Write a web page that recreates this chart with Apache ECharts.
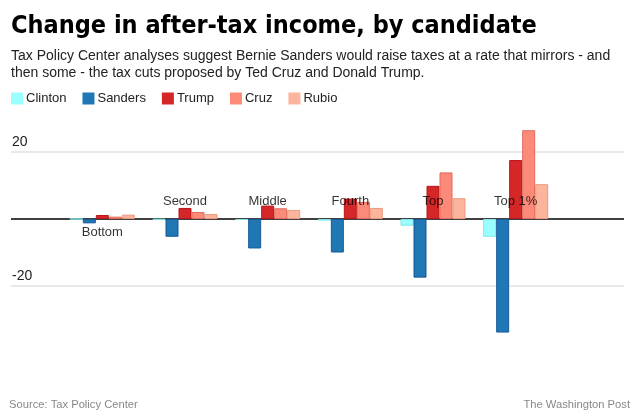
<!DOCTYPE html>
<html lang="en">

<head>
    <meta charset="UTF-8">
    <meta name="viewport" content="width=device-width, initial-scale=1.0">
    <title>Change in after-tax income, by candidate</title>
    <style>
        html, body { margin: 0; padding: 0; background: #fff; }
        .show { width: 640px; height: 420px; }
    </style>
</head>

<body>
    <div class="show"></div>
    <script src="https://cdn.jsdelivr.net/npm/echarts@6/dist/echarts.min.js"></script>
    <script>
        // income groups
        const categories = ['Bottom', 'Second', 'Middle', 'Fourth', 'Top', 'Top 1%']
        // change in after-tax income, percent
        const clinton = [0, -0.2, -0.3, -0.5, -2.0, -5.3]
        const sanders = [-1.3, -5.3, -8.8, -10.0, -17.5, -33.9]
        const trump = [1.2, 3.3, 4.0, 6.1, 9.9, 17.6]
        const cruz = [0.7, 2.1, 3.2, 5.1, 13.9, 26.5]
        const rubio = [1.3, 1.5, 2.7, 3.3, 6.2, 10.4]
        // y ticks that carry a label
        const yTickLabels = [20, -20]
        // label below the zero line, the rest sit above it
        const belowLabels = ['Bottom']

        const font = '"Liberation Sans", Arial, sans-serif'

        /* plot box: zero sits in the middle of -40..40 */
        const plotTop = 85
        const plotHeight = 268
        const toZero = plotHeight / 2

        const myChart = echarts.init(document.querySelector('.show'))

        const bar = (name, data, color, border) => ({
            name,
            type: 'bar',
            data,
            xAxisIndex: 1,
            yAxisIndex: 1,
            barWidth: 13,
            barGap: '0%',
            itemStyle: { color, borderColor: border, borderWidth: 1 }
        })

        const option = {
            animation: false,
            textStyle: { fontFamily: font },
            title: [{
                text: 'Change in after-tax income, by candidate',
                left: 6,
                top: 9,
                textStyle: {
                    fontFamily: '"Liberation Sans Narrow", "DejaVu Sans Condensed", sans-serif',
                    fontWeight: 'bold',
                    fontSize: 25,
                    color: '#000'
                }
            }, {
                text: 'Tax Policy Center analyses suggest Bernie Sanders would raise taxes at a rate that mirrors - and\nthen some - the tax cuts proposed by Ted Cruz and Donald Trump.',
                left: 6,
                top: 43,
                textStyle: { fontFamily: font, fontSize: 14, fontWeight: 'normal', lineHeight: 17, color: '#222' }
            }, {
                text: 'Source: Tax Policy Center',
                left: 4,
                top: 394,
                textStyle: { fontFamily: font, fontSize: 11.2, fontWeight: 'normal', color: '#888' }
            }, {
                text: 'The Washington Post',
                right: 5,
                top: 394,
                textStyle: { fontFamily: font, fontSize: 11.2, fontWeight: 'normal', color: '#888' }
            }],
            legend: {
                left: 11,
                top: 92,
                padding: 0,
                icon: 'rect',
                itemWidth: 12,
                itemHeight: 12,
                itemGap: 16,
                itemStyle: { borderWidth: 0 },
                textStyle: { fontSize: 13, color: '#222', padding: [0, 0, 0, -2] },
                data: ['Clinton', 'Sanders', 'Trump', 'Cruz', 'Rubio']
            },
            /* grid 0 carries the full-width gridlines, grid 1 the bars */
            grid: [
                { left: 11, right: 16, top: plotTop, height: plotHeight },
                { left: 61, width: 496, top: plotTop, height: plotHeight }
            ],
            xAxis: [{
                gridIndex: 0, type: 'value', min: 0, max: 1, show: false
            }, {
                /* labels under the zero line */
                gridIndex: 1,
                type: 'category',
                data: categories,
                position: 'bottom',
                offset: -toZero,
                z: 5,
                axisLine: { show: false, onZero: false },
                axisTick: { show: false },
                axisLabel: {
                    margin: 7,
                    fontSize: 13,
                    color: 'rgba(0,0,0,0.8)',
                    formatter: v => belowLabels.includes(v) ? v : ''
                }
            }, {
                /* labels over the zero line */
                gridIndex: 1,
                type: 'category',
                data: categories,
                position: 'top',
                offset: -toZero,
                z: 5,
                axisLine: { show: false, onZero: false },
                axisTick: { show: false },
                axisLabel: {
                    margin: 11,
                    fontSize: 13,
                    color: 'rgba(0,0,0,0.8)',
                    formatter: v => belowLabels.includes(v) ? '' : v
                }
            }],
            yAxis: [{
                gridIndex: 0,
                type: 'value',
                min: -40,
                max: 40,
                interval: 20,
                axisLine: { show: false },
                axisTick: { show: false },
                axisLabel: {
                    inside: true,
                    margin: 1,
                    verticalAlign: 'bottom',
                    padding: [0, 0, 3, 0],
                    fontSize: 14,
                    color: '#222',
                    formatter: v => yTickLabels.includes(v) ? String(v) : ''
                },
                splitLine: {
                    lineStyle: {
                        /* -40, -20, 0, 20, 40 */
                        color: ['rgba(0,0,0,0)', '#e2e2e2', '#000', '#e2e2e2', 'rgba(0,0,0,0)'],
                        width: 1.5
                    }
                }
            }, {
                gridIndex: 1,
                type: 'value',
                min: -40,
                max: 40,
                interval: 20,
                show: false
            }],
            series: [
                bar('Clinton', clinton, '#99ffff', '#80e6e6'),
                bar('Sanders', sanders, '#1f77b4', '#17599a'),
                bar('Trump', trump, '#d62728', '#b8161c'),
                bar('Cruz', cruz, '#fc8a78', '#e06b5c'),
                bar('Rubio', rubio, '#fdb49c', '#eb9a80')
            ]
        }

        myChart.setOption(option)
    </script>
</body>

</html>
